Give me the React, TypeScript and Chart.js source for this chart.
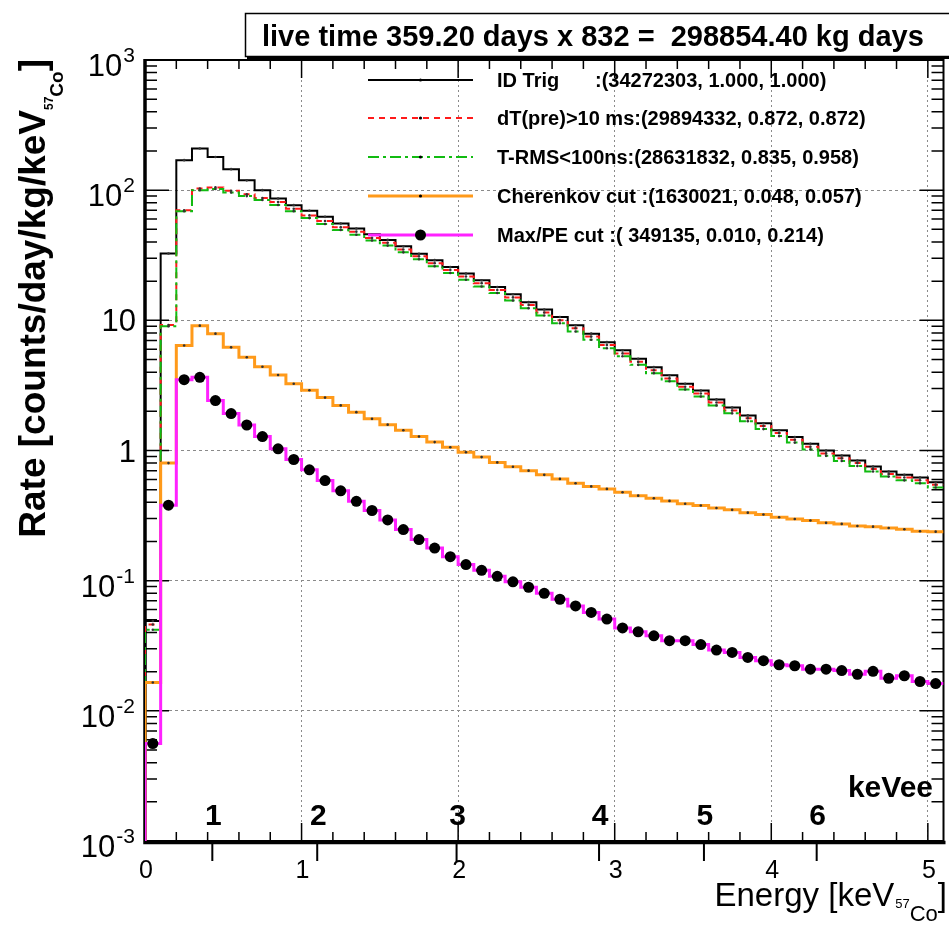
import React, { useEffect, useRef } from 'react';
import { Chart, registerables } from 'chart.js';

Chart.register(...registerables);

// ---------------- data ----------------
const binLowEdges = [
  0.0, 0.1, 0.2, 0.3, 0.4, 0.5, 0.6, 0.7, 0.8, 0.9,
  1.0, 1.1, 1.2, 1.3, 1.4, 1.5, 1.6, 1.7, 1.8, 1.9,
  2.0, 2.1, 2.2, 2.3, 2.4, 2.5, 2.6, 2.7, 2.8, 2.9,
  3.0, 3.1, 3.2, 3.3, 3.4, 3.5, 3.6, 3.7, 3.8, 3.9,
  4.0, 4.1, 4.2, 4.3, 4.4, 4.5, 4.6, 4.7, 4.8, 4.9,
  5.0,
];
const BIN_WIDTH = 0.1;
const X_MAX = 5.1;
const Y_MIN = 1e-3;
const Y_MAX = 1e3;

const idTrig = [
  0.049, 32.6, 170, 209, 180, 145, 119, 100, 86.3, 76.7,
  69.4, 62.4, 55.4, 50.7, 45.8, 41.5, 37.0, 32.5, 29.0, 25.7,
  22.9, 20.3, 18.0, 15.85, 13.8, 12.1, 10.6, 9.15, 7.9, 6.8,
  5.88, 5.07, 4.37, 3.78, 3.26, 2.89, 2.47, 2.14, 1.86, 1.62,
  1.43, 1.27, 1.125, 1.0, 0.915, 0.838, 0.753, 0.69, 0.65, 0.62,
  0.57,
];
const dtPre = [
  0.046, 9.2, 70, 103, 105, 99, 93, 87, 81, 72,
  64, 58, 52, 48, 43, 39.5, 35, 31, 27.5, 24.4,
  21.7, 19.3, 17.1, 15.0, 13.1, 11.5, 10.0, 8.7, 7.5, 6.45,
  5.57, 4.8, 4.14, 3.58, 3.09, 2.74, 2.34, 2.03, 1.77, 1.54,
  1.36, 1.21, 1.07, 0.95, 0.87, 0.80, 0.72, 0.66, 0.62, 0.59,
  0.545,
];
const tRms = [
  0.042, 9.0, 69, 100, 102, 96, 90, 84, 77, 69,
  61, 55, 49.5, 45.5, 41, 37.5, 33.3, 29.5, 26, 23.1,
  20.5, 18.2, 16.2, 14.2, 12.4, 10.9, 9.5, 8.2, 7.1, 6.1,
  5.3, 4.55, 3.93, 3.4, 2.94, 2.6, 2.22, 1.93, 1.68, 1.46,
  1.29, 1.15, 1.02, 0.91, 0.83, 0.76, 0.69, 0.63, 0.59, 0.56,
  0.52,
];
const cherenkov = [
  0.0165, 0.80, 6.4, 9.1, 7.9, 6.2, 5.2, 4.4, 3.8, 3.26,
  2.9, 2.55, 2.22, 1.97, 1.75, 1.58, 1.43, 1.28, 1.16, 1.06,
  0.97, 0.89, 0.81, 0.75, 0.70, 0.65, 0.605, 0.56, 0.53, 0.507,
  0.478, 0.45, 0.43, 0.41, 0.39, 0.378, 0.362, 0.35, 0.333, 0.322,
  0.307, 0.298, 0.29, 0.278, 0.273, 0.263, 0.26, 0.254, 0.248, 0.24,
  0.238,
];
const maxPe = [
  0.0056, 0.38, 3.5, 3.65, 2.42, 1.92, 1.57, 1.28, 1.03, 0.853,
  0.71, 0.588, 0.49, 0.407, 0.346, 0.293, 0.247, 0.207, 0.178, 0.153,
  0.133, 0.12, 0.108, 0.098, 0.089, 0.08, 0.072, 0.064, 0.057, 0.0507,
  0.0433, 0.0405, 0.0377, 0.0346, 0.0346, 0.0323, 0.0293, 0.0281, 0.0257, 0.0243,
  0.0226, 0.0222, 0.0209, 0.0209, 0.0204, 0.0191, 0.0201, 0.0178, 0.0186, 0.0168,
  0.0162,
];

const xMajorTicks = [0, 1, 2, 3, 4, 5];
const xTickLabels = ['0', '1', '2', '3', '4', '5'];
const xMinorTicks = [
  0.2, 0.4, 0.6, 0.8, 1.2, 1.4, 1.6, 1.8, 2.2, 2.4, 2.6, 2.8,
  3.2, 3.4, 3.6, 3.8, 4.2, 4.4, 4.6, 4.8,
];
const yDecades = [1e-3, 1e-2, 1e-1, 1, 10, 100, 1000];
const yLabelBase = ['10', '10', '10', '1', '10', '10', '10'];
const yLabelExp = ['-3', '-2', '-1', '', '', '2', '3'];
const yMinorMultipliers = [2, 3, 4, 5, 6, 7, 8, 9];

const keveeTickEnergies = [0.43, 1.1, 1.99, 2.9, 3.57, 4.29];
const keveeLabels = ['1', '2', '3', '4', '5', '6'];

const titleText = 'live time 359.20 days x 832 =  298854.40 kg days';
const legendNames = ['ID Trig', 'dT(pre)>10 ms', 'T-RMS<100ns', 'Cherenkov cut ', 'Max/PE cut '];
const legendStats = [
  ':(34272303, 1.000, 1.000)',
  ':(29894332, 0.872, 0.872)',
  ':(28631832, 0.835, 0.958)',
  ':(1630021, 0.048, 0.057)',
  ':( 349135, 0.010, 0.214)',
];

const COLORS = ['#000000', '#ff1a1a', '#11bb11', '#ff9a1a', '#ff22ff'];
const WIDTHS = [2, 2, 2, 3, 3];
const DASHES: number[][] = [[], [6, 5], [11, 4, 3, 4], [], []];
const FONT = '"Liberation Sans", Arial, Helvetica, sans-serif';

// ---------------- helpers ----------------
function stepPoints(vals: number[]) {
  const pts: { x: number; y: number }[] = [{ x: binLowEdges[0], y: Y_MIN }];
  vals.forEach((v, i) => pts.push({ x: binLowEdges[i], y: v }));
  pts.push({ x: X_MAX, y: vals[vals.length - 1] });
  return pts;
}
function centerPoints(vals: number[]) {
  return vals.map((v, i) => ({ x: binLowEdges[i] + BIN_WIDTH / 2, y: v }));
}

const decorPlugin = {
  id: 'rootDecor',
  beforeDatasetsDraw(chart: any) {
    const { ctx, chartArea: a, scales } = chart;
    const x = scales.x;
    const y = scales.y;
    ctx.save();
    ctx.strokeStyle = '#000';
    ctx.lineWidth = 1.5;
    ctx.beginPath();
    xMinorTicks.forEach((v) => {
      const px = x.getPixelForValue(v);
      ctx.moveTo(px, a.bottom); ctx.lineTo(px, a.bottom - 9);
      ctx.moveTo(px, a.top); ctx.lineTo(px, a.top + 9);
    });
    xMajorTicks.forEach((v) => {
      const px = x.getPixelForValue(v);
      ctx.moveTo(px, a.bottom); ctx.lineTo(px, a.bottom - 18);
      ctx.moveTo(px, a.top); ctx.lineTo(px, a.top + 18);
    });
    yDecades.forEach((d) => {
      const py = y.getPixelForValue(d);
      ctx.moveTo(a.left, py); ctx.lineTo(a.left + 24, py);
      ctx.moveTo(a.right, py); ctx.lineTo(a.right - 24, py);
      if (d < Y_MAX) {
        yMinorMultipliers.forEach((m) => {
          const pm = y.getPixelForValue(d * m);
          ctx.moveTo(a.left, pm); ctx.lineTo(a.left + 12, pm);
          ctx.moveTo(a.right, pm); ctx.lineTo(a.right - 12, pm);
        });
      }
    });
    ctx.stroke();
    ctx.lineWidth = 2;
    ctx.beginPath();
    keveeTickEnergies.forEach((e) => {
      const px = x.getPixelForValue(e);
      ctx.moveTo(px, a.bottom); ctx.lineTo(px, a.bottom + 20);
    });
    ctx.stroke();
    ctx.lineWidth = 2;
    ctx.strokeRect(a.left, a.top, a.right - a.left, a.bottom - a.top);
    ctx.lineWidth = 3.5;
    ctx.beginPath();
    ctx.moveTo(a.left, a.top - 1); ctx.lineTo(a.left, a.bottom + 1.5);
    ctx.lineTo(a.right + 2, a.bottom + 1.5);
    ctx.stroke();
    ctx.restore();
  },
  afterDraw(chart: any) {
    const { ctx, chartArea: a, scales } = chart;
    const x = scales.x;
    const y = scales.y;
    ctx.save();
    ctx.fillStyle = '#000';
    ctx.textBaseline = 'alphabetic';

    yDecades.forEach((d, i) => {
      const py = y.getPixelForValue(d);
      const base = yLabelBase[i];
      const exp = yLabelExp[i];
      const right = 135;
      if (exp) {
        ctx.font = `21px ${FONT}`;
        const we = ctx.measureText(exp).width;
        ctx.textAlign = 'right';
        ctx.fillText(exp, right, py + 2);
        ctx.font = `31px ${FONT}`;
        ctx.fillText(base, right - we - 1, py + 16);
      } else {
        ctx.font = `31px ${FONT}`;
        ctx.textAlign = 'right';
        ctx.fillText(base, right + 1, py + 11);
      }
    });

    ctx.font = `25px ${FONT}`;
    ctx.textAlign = 'center';
    xMajorTicks.forEach((v, i) => {
      ctx.fillText(xTickLabels[i], x.getPixelForValue(v) + 1, a.bottom + 37);
    });

    ctx.font = `bold 30px ${FONT}`;
    keveeTickEnergies.forEach((e, i) => {
      ctx.fillText(keveeLabels[i], x.getPixelForValue(e) + 1, a.bottom - 16);
    });
    ctx.textAlign = 'right';
    ctx.fillText('keVee', 933, a.bottom - 44);

    {
      const parts = [
        { t: ']', f: `33px ${FONT}`, dy: 0 },
        { t: 'Co', f: `22px ${FONT}`, dy: 15 },
        { t: '57', f: `13px ${FONT}`, dy: 2 },
        { t: 'Energy [keV', f: `33px ${FONT}`, dy: 0 },
      ];
      let xr = 947;
      const yb = 906;
      ctx.textAlign = 'right';
      parts.forEach((p, i) => {
        ctx.font = p.f;
        ctx.fillText(p.t, xr, yb + p.dy);
        xr -= ctx.measureText(p.t).width + (i === 2 ? 1 : 0);
      });
    }

    {
      ctx.save();
      ctx.translate(45, 59);
      ctx.rotate(-Math.PI / 2);
      const parts = [
        { t: ']', f: `bold 37px ${FONT}`, dy: 0 },
        { t: 'Co', f: `bold 19px ${FONT}`, dy: 18 },
        { t: '57', f: `bold 12px ${FONT}`, dy: 8 },
        { t: 'Rate [counts/day/kg/keV', f: `bold 37px ${FONT}`, dy: 0 },
      ];
      let xr = 0;
      ctx.textAlign = 'right';
      parts.forEach((p) => {
        ctx.font = p.f;
        ctx.fillText(p.t, xr, p.dy);
        xr -= ctx.measureText(p.t).width;
      });
      ctx.restore();
    }

    const rows = [80, 118, 157, 196, 235];
    rows.forEach((ry, i) => {
      ctx.save();
      ctx.strokeStyle = COLORS[i];
      ctx.lineWidth = WIDTHS[i];
      ctx.setLineDash(DASHES[i]);
      ctx.beginPath();
      ctx.moveTo(368, ry); ctx.lineTo(473, ry);
      ctx.stroke();
      ctx.restore();
      ctx.fillStyle = '#000';
      ctx.beginPath();
      ctx.arc(420.5, ry, i === 4 ? 5.5 : 1.6, 0, Math.PI * 2);
      ctx.fill();
      ctx.font = `bold 20px ${FONT}`;
      ctx.textAlign = 'left';
      if (i === 0) {
        ctx.fillText(legendNames[i], 497, ry + 7);
        ctx.fillText(legendStats[i], 595, ry + 7);
      } else {
        ctx.fillText(legendNames[i] + legendStats[i], 497, ry + 7);
      }
    });

    ctx.fillStyle = '#fff';
    ctx.fillRect(245, 13, 720, 44);
    ctx.strokeStyle = '#000';
    ctx.lineWidth = 1.5;
    ctx.strokeRect(245.5, 13.5, 720, 43);
    ctx.lineWidth = 3;
    ctx.beginPath();
    ctx.moveTo(247, 57.5); ctx.lineTo(949, 57.5);
    ctx.stroke();
    ctx.fillStyle = '#000';
    ctx.font = `bold 29px ${FONT}`;
    ctx.textAlign = 'left';
    ctx.fillText(titleText, 262, 46);

    ctx.restore();
  },
};

export default function App() {
  const ref = useRef<HTMLCanvasElement>(null);
  useEffect(() => {
    document.body.style.margin = '0';
    const canvas = ref.current;
    if (!canvas) return;
    const series = [idTrig, dtPre, tRms, cherenkov, maxPe];
    const histDatasets = series.map((vals, i) => ({
      label: legendNames[i],
      data: stepPoints(vals),
      borderColor: COLORS[i],
      borderWidth: WIDTHS[i],
      borderDash: DASHES[i],
      stepped: 'before' as const,
      pointRadius: 0,
      fill: false,
      tension: 0,
      order: 20 - i * 2,
    }));
    const markerDatasets = series.map((vals, i) => ({
      label: legendNames[i] + ' points',
      data: centerPoints(vals),
      showLine: false,
      pointRadius: i === 4 ? 5.5 : 1.3,
      pointBackgroundColor: i === 4 ? '#000' : '#333',
      pointBorderWidth: 0,
      borderColor: 'rgba(0,0,0,0)',
      order: 19 - i * 2,
    }));
    const chart = new Chart(canvas, {
      type: 'line',
      data: { datasets: [...histDatasets, ...markerDatasets] as any },
      options: {
        animation: false,
        responsive: false,
        devicePixelRatio: 1,
        layout: { padding: { top: 60, right: 1, left: 0, bottom: 0 } },
        plugins: { legend: { display: false }, tooltip: { enabled: false }, title: { display: false } },
        events: [],
        scales: {
          x: {
            type: 'linear',
            min: 0,
            max: X_MAX,
            afterFit: (s: any) => { s.height = 84; },
            afterBuildTicks: (s: any) => { s.ticks = xMajorTicks.map((v) => ({ value: v })); },
            ticks: { display: false },
            grid: {
              drawTicks: false,
              lineWidth: 1,
              color: (c: any) => (c.tick && c.tick.value === 0 ? 'rgba(0,0,0,0)' : '#8a8a8a'),
            },
            border: { display: false, dash: [2, 3] },
          },
          y: {
            type: 'logarithmic',
            min: Y_MIN,
            max: Y_MAX,
            afterFit: (s: any) => { s.width = 145; },
            afterBuildTicks: (s: any) => { s.ticks = yDecades.map((v) => ({ value: v, major: true })); },
            ticks: { display: false },
            grid: {
              drawTicks: false,
              lineWidth: 1,
              color: (c: any) =>
                c.tick && (c.tick.value === Y_MIN || c.tick.value === Y_MAX) ? 'rgba(0,0,0,0)' : '#8a8a8a',
            },
            border: { display: false, dash: [3, 3] },
          },
        },
      } as any,
      plugins: [decorPlugin],
    });
    return () => chart.destroy();
  }, []);
  return (
    <div style={{ width: 949, height: 925, position: 'relative', background: '#fff' }}>
      <canvas ref={ref} width={949} height={925} style={{ display: 'block' }} />
    </div>
  );
}
